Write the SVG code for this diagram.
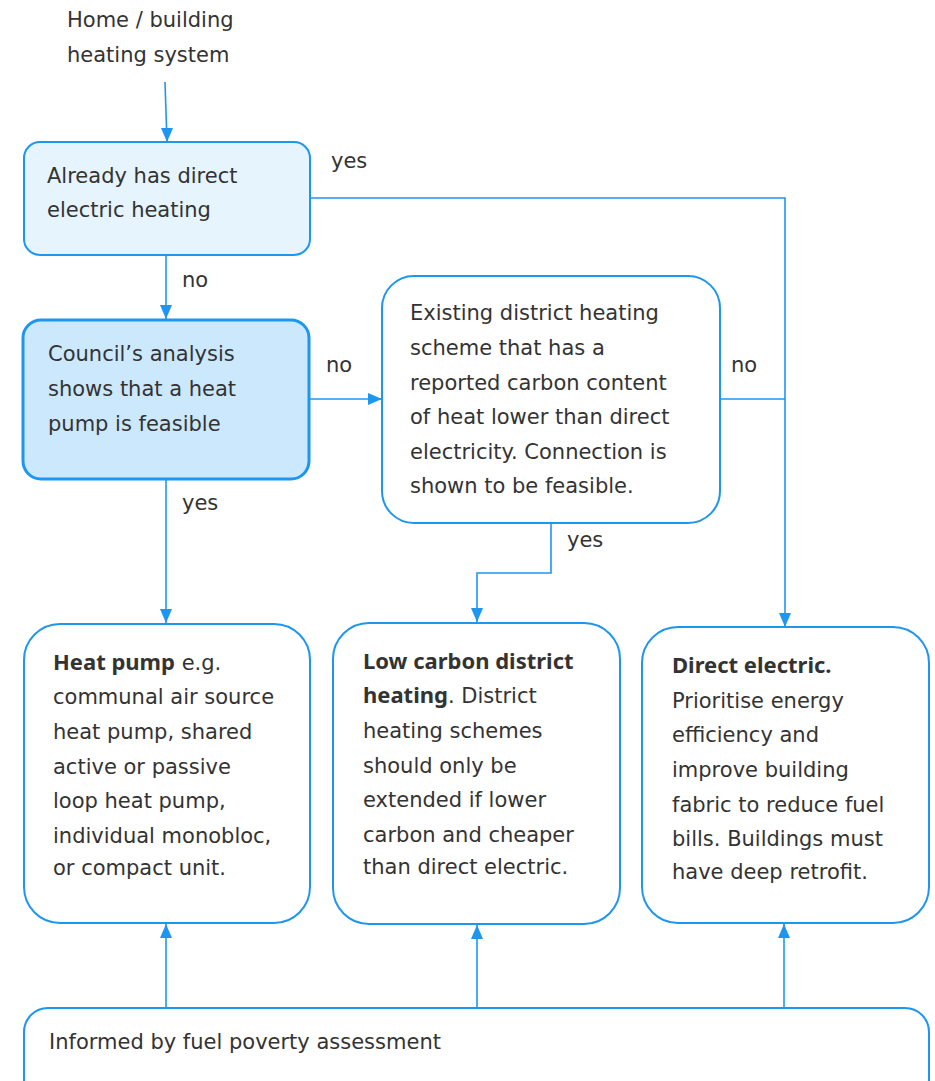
<svg xmlns="http://www.w3.org/2000/svg" width="935" height="1081" viewBox="0 0 935 1081">
<defs>
<marker id="ar" viewBox="0 0 14 12" refX="14" refY="6" markerWidth="14" markerHeight="12" markerUnits="userSpaceOnUse" orient="0">
<path d="M0,0 L14,6 L0,12 Z" fill="#1e96f0"/>
</marker>
<marker id="au" viewBox="0 0 12 14" refX="6" refY="0" markerWidth="12" markerHeight="14" markerUnits="userSpaceOnUse" orient="0">
<path d="M0,14 L12,14 L6,0 Z" fill="#1e96f0"/>
</marker>
<marker id="ad" viewBox="0 0 12 14" refX="6" refY="14" markerWidth="12" markerHeight="14" markerUnits="userSpaceOnUse" orient="0">
<path d="M0,0 L12,0 L6,14 Z" fill="#1e96f0"/>
</marker>
</defs>
<style>
text{font-family:"DejaVu Sans","Noto Sans",sans-serif;font-size:21px;fill:#333333;}
.b{font-family:"Noto Sans","DejaVu Sans",sans-serif;font-size:22px;font-weight:bold;}
.box{stroke:#1e96f0;stroke-width:2;fill:#ffffff;}
.c{stroke:#1e96f0;stroke-width:1.6;fill:none;}
</style>
<rect width="935" height="1081" fill="#ffffff"/>

<g id="start">
<text x="67" y="27">Home / building</text>
<text x="67" y="62">heating system</text>
</g>

<g id="connectors">
<line class="c" x1="165" y1="82" x2="167" y2="142" marker-end="url(#ad)"/>
<line class="c" x1="166" y1="256" x2="166" y2="319" marker-end="url(#ad)"/>
<line class="c" x1="166" y1="480" x2="166" y2="623" marker-end="url(#ad)"/>
<line class="c" x1="310" y1="399" x2="382" y2="399" marker-end="url(#ar)"/>
<polyline class="c" points="310,198 785,198 785,627" marker-end="url(#ad)"/>
<line class="c" x1="720" y1="399" x2="785" y2="399"/>
<polyline class="c" points="551,523 551,573 477,573 477,622" marker-end="url(#ad)"/>
<line class="c" x1="166" y1="1008" x2="166" y2="924" marker-end="url(#au)"/>
<line class="c" x1="477" y1="1008" x2="477" y2="925" marker-end="url(#au)"/>
<line class="c" x1="784" y1="1008" x2="784" y2="924" marker-end="url(#au)"/>
<text x="331" y="168">yes</text>
<text x="182" y="287">no</text>
<text x="326" y="372">no</text>
<text x="731" y="372">no</text>
<text x="182" y="510">yes</text>
<text x="567" y="547">yes</text>
</g>

<g id="q1">
<rect x="24" y="142" width="286" height="113" rx="16" class="box" style="fill:#e6f4fe"/>
<text x="47" y="183">Already has direct</text>
<text x="47" y="217">electric heating</text>
</g>

<g id="q2">
<rect x="23" y="320" width="286" height="159" rx="18" class="box" style="fill:#cce8fd;stroke-width:3"/>
<text x="48" y="361">Council’s analysis</text>
<text x="48" y="396">shows that a heat</text>
<text x="48" y="431">pump is feasible</text>
</g>

<g id="q3">
<rect x="382" y="276" width="338" height="247" rx="32" class="box"/>
<text x="410" y="320">Existing district heating</text>
<text x="410" y="355">scheme that has a</text>
<text x="410" y="390">reported carbon content</text>
<text x="410" y="424">of heat lower than direct</text>
<text x="410" y="459">electricity. Connection is</text>
<text x="410" y="493">shown to be feasible.</text>
</g>

<g id="heatpump">
<rect x="24" y="624" width="286" height="299" rx="36" class="box"/>
<text x="53" y="670"><tspan class="b">Heat pump</tspan> e.g.</text>
<text x="53" y="704">communal air source</text>
<text x="53" y="739">heat pump, shared</text>
<text x="53" y="774">active or passive</text>
<text x="53" y="808">loop heat pump,</text>
<text x="53" y="843">individual monobloc,</text>
<text x="53" y="875">or compact unit.</text>
</g>

<g id="district">
<rect x="333" y="623" width="287" height="301" rx="36" class="box"/>
<text x="363" y="669" class="b">Low carbon district</text>
<text x="363" y="703"><tspan class="b">heating</tspan>. District</text>
<text x="363" y="738">heating schemes</text>
<text x="363" y="773">should only be</text>
<text x="363" y="807">extended if lower</text>
<text x="363" y="842">carbon and cheaper</text>
<text x="363" y="874">than direct electric.</text>
</g>

<g id="direct">
<rect x="642" y="627" width="287" height="296" rx="36" class="box"/>
<text x="672" y="673" class="b">Direct electric.</text>
<text x="672" y="708">Prioritise energy</text>
<text x="672" y="742">efficiency and</text>
<text x="672" y="777">improve building</text>
<text x="672" y="812">fabric to reduce fuel</text>
<text x="672" y="846">bills. Buildings must</text>
<text x="672" y="879">have deep retrofit.</text>
</g>

<g id="fuel">
<rect x="24" y="1008" width="905" height="110" rx="24" class="box"/>
<text x="49" y="1049">Informed by fuel poverty assessment</text>
</g>
</svg>
